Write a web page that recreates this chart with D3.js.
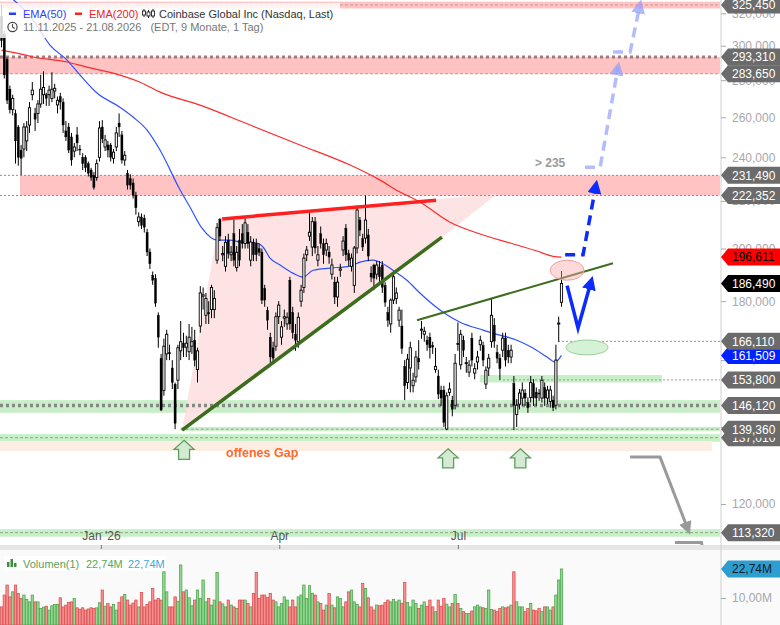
<!DOCTYPE html>
<html>
<head>
<meta charset="utf-8">
<script src="https://cdn.jsdelivr.net/npm/d3@7"></script>
<style>
  body { margin: 0; background: #fff; }
  svg text { font-family: "Liberation Sans", Arial, sans-serif; }
</style>
</head>
<body>
<svg id="chart" width="780" height="625"></svg>
<script>
// daily candles, [open, high, low, close] in thousands
const candles = [
  [318,325.45,299,303],[307,309,281,283],[292,293,267,269],[275,277,262,264],[264,272,261,270],
  [262,264,237,248],[255,256,236,240],[243.5,246,231.6,239.5],[244,257,240,255],[248,258,243,255],
  [256,268,252,265],[272,279,269,274.5],[262,265,253,259],[262,269,257,267],[267,283,265,275],
  [272,285,267,276],[272,273,266,270],[272,277,266,274.5],[270,284.5,268,275],[274,278,270,275.5],
  [266.5,271,262,269],[271,273,264,268],[268,270,252,256],[253,258,248,250],[255,257,242,243.5],
  [250,252,236,238.7],[243,247,240,245],[251,255,243,247],[244,246,241,243.5],[240,242,234,237],
  [240,241,233,235],[237,238,231,232.5],[234,235,229,230.5],[231.5,233,225,226],[230.5,239,229,237],
  [240,258,238,254.5],[255,258.5,247,249],[245,251,243,248.5],[246,248,240,243.5],[246,247,238,240],
  [239.5,244,237,242.5],[245,255,243,252],[257,262,250,255],[251,253,237,238.7],[238.7,243,236,241],
  [232.5,234,225,227],[230,232,225,227],[228,230,221,222.5],[222.5,224,214,217],[211,215,209,213],
  [213,214.5,208,209.5],[212.5,214,206.5,208.7],[206.6,208,197,198.6],[198.6,200,192,194],[189.6,191,186,187.7],
  [188.5,190,178,179.3],[175,176,164,167.5],[160.6,162,144.5,144.8],[150.6,167,149,164.5],[162,170,160,168.5],
  [162.5,165,160,162],[157.5,160,151,153],[152.5,153,139.36,141],[153.7,165,151,164],[163,173,160,166],
  [165.5,169,161,164],[164.2,168,161,165.5],[162.7,172,160,167.5],[164.5,171,162,166],[166.5,170,158,160],
  [157,164,153,163],[171.3,185.5,169,183],[181.8,185,177,182.3],[175,183,172,181],[176,180,172,175.5],
  [177,186,174,185],[177,184,174,181],[195.4,210.5,194,208.5],[212,212.5,203,205],[197.5,201,195,198],
  [193,205,191,202.5],[203.4,206,196,198],[197.5,201,195,198.5],[206,212,193,195.4],[192.5,201,191,198.5],
  [203.4,208,193,195.4],[206,210,200,202],[202,213,200,210.5],[206.6,210,200,202],[195.4,205,193,202.6],
  [202.6,204,195,197.5],[202,204,195,197.5],[200,202,197,198.5],[198.6,200,179,180.4],[184.7,186,178,180.4],
  [176.8,178,170,173.3],[167.5,169,159,161],[164,166,159,160.6],[164.5,176,163,174.5],[174.5,180,172,178.6],
  [167.5,173,165,171],[174,177,171,174.5],[172,176,170,174.3],[187.7,189,170,172],[176,178,167,169],
  [168.5,172,163,166.5],[166,176,164,174.3],[180,186,178,184],[185,198,183,196.2],[197.5,201,195,199.4],
  [205,215,203,206.6],[200.6,213,197,211],[211,213,198,200.2],[195.4,201,193,197.5],[206,209,200,202],
  [202,204,194,197.5],[199.4,204,197,202],[198.6,201,194,196.6],[190,196,188,193.5],[187,189,179,181.5],
  [181.5,189,178,187],[191.5,194,189,192],[199.4,205,197,203],[208.3,210,195,197.5],[198,199.5,193,195.4],
  [193,198,191,196.2],[185.8,201,183,200.2],[200.2,218,198,216],[211.7,213,205,207.5],[204,206,199,200.6],
  [204.2,222.35,202,211.7],[205.5,208,195,197],[190.4,193,187,188.9],[193.5,194,184,188.5],[190,195,188,193.5],
  [192.7,195,187,189],[193.5,195,183,185.1],[185.8,187,178,179.6],[176,178,171,173.3],[172,181,169,180.4],
  [180.4,191,179,189],[181,185,179,183],[173.3,178,171,176.8],[171.3,177,162,163.8],[158,160,147.7,152],
  [153,162,151,160.3],[157.5,166,150,164],[152,156,150,153.7],[154.7,163,153,161],[160.6,166.5,157,159.4],
  [170,173,167,170.2],[168.5,171,166,169.5],[166.5,168,163,165],[167.5,169,160.5,164],[164.8,166,162,164.2],
  [157,164,156,158],[155,157,148,149.5],[150.7,152,146,148.3],[150.7,152,140,141.3],[139.4,150,139.1,149],
  [150,153,149,151],[147.7,149,143,145],[146.2,162,145,159],[165.5,172.5,163,165],[158.5,170,157,168.5],
  [166.5,168,161,163.2],[159,161,156,159.2],[156.2,160,154.7,158.4],[167.2,169,158,160],[155.9,159,154,157.3],
  [159.4,163,157,161],[165,168,163,166.5],[164.8,166,158,160],[152.5,158,151,156.8],[157.5,162,155,160.6],
  [166,181,164,175],[171.6,174,164,166.2],[162.5,165,159,160.6],[160.6,162,153.7,157.3],[163.2,169,161,167.2],
  [167.2,169,158,160],[163.2,165,159,161],[161,165,159,163.2],[152.7,155,139.1,146.2],[143.5,148,140,146.2],
  [146.5,151,145,149.8],[148.3,153,146,150.7],[149.8,151,146,148.3],[147,148.5,144,145.5],[148.5,155,147,153],
  [152.7,154,146,148.3],[150.1,151.5,146,148.3],[149.8,151,147.5,149.5],[148.3,155,147,153.7],[151.5,153,146,148.3],
  [148.3,152,146.5,150.7],[147.3,152,145.5,150.7],[147.7,149,144.5,145.5],[146.2,165,145,160],[172,174.5,166,172.3],
  [179.6,191.2,178,186.49]
];

// daily volume in millions
const volumes = [
  6.1,11.3,15.7,10.5,12.7,15.7,12.0,9.8,11.3,9.4,8.3,11.3,8.3,8.3,5.4,6.0,
  6.4,4.7,6.6,7.2,7.2,10.1,6.1,6.9,8.0,8.3,9.8,5.7,5.1,5.7,4.7,5.2,
  5.7,5.4,5.7,7.9,13.5,6.4,7.6,6.1,7.2,4.7,8.0,10.5,11.6,9.1,6.9,7.8,
  9.1,6.1,12.4,6.1,7.2,8.3,14.2,9.1,9.8,9.1,21.5,12.7,6.1,6.1,10.5,8.6,
  24.5,12.7,13.5,10.1,6.6,9.1,13.5,9.8,17.9,8.3,9.8,6.9,9.1,21.2,8.3,7.4,
  6.1,9.1,6.9,6.1,5.4,9.1,9.1,9.1,7.6,6.1,12.0,21.2,9.8,11.3,11.3,10.2,
  12.0,9.1,8.3,6.1,7.6,10.5,9.1,6.1,9.1,6.1,10.5,11.3,15.7,9.8,15.4,12.1,
  11.3,8.3,7.6,4.7,6.9,12.0,6.9,5.7,10.5,9.8,6.1,8.3,12.7,13.5,8.3,7.1,
  6.1,16.4,14.2,10.1,6.1,4.7,6.9,6.6,6.9,8.0,9.1,8.3,9.4,8.3,9.1,7.7,
  16.8,8.0,6.1,9.1,7.6,5.4,6.9,8.3,6.4,9.1,6.1,4.0,9.1,6.4,9.8,7.3,
  6.1,7.6,11.6,7.6,5.4,4.0,3.2,3.2,4.3,6.1,6.9,6.1,5.7,5.4,13.5,5.0,
  4.7,4.0,5.4,6.1,5.7,6.1,6.9,21.5,8.3,6.1,6.1,4.0,5.4,7.6,4.7,4.4,
  5.5,4.0,6.1,6.1,4.7,6.1,11.3,17.9,22.74
];

// moving averages, [candle index, value]
const ema50 = [
  [0,335],[11.3,315.8],[17.3,300.4],[23.4,291.5],[28,283],[34.1,272.9],[42.3,265.3],[47,260.1],
  [52,253.4],[56.6,243.5],[63.8,224.8],[67.3,217.3],[71.6,208.3],[77,203.4],[81.6,203.4],[85.2,202.6],
  [91.3,202.2],[93.4,200.6],[95.9,196.2],[99.5,193.5],[104.1,190.4],[107.7,188.9],[111.3,191.5],
  [117.3,192.3],[124.5,193.1],[128,194.6],[132.7,195.4],[135.2,194.6],[139.8,191.5],[144.8,187.7],
  [149.5,182.9],[157.7,176.1],[163.8,172.6],[172,169.9],[178,168.2],[184.1,166.5],[189.8,163.9],
  [194.8,161],[197.7,159.4],[200,161.509]
];
const ema200 = [
  [0,297.4],[5.5,295.6],[11.3,293.3],[23.4,290.4],[30.5,287.4],[39.8,284],[49.5,278.9],[56.6,273.4],
  [70.9,266.4],[88.8,256],[106.6,246],[124.5,236.3],[135.2,229.3],[142.3,223.9],[149.5,219.4],
  [160.2,210.8],[170.9,205.9],[181.6,202.2],[191.2,199],[197,196.9],[200,196.611]
];

const priceTicks = [120, 140, 160, 180, 200, 220, 240, 260, 280, 300, 320];
const volTicks = [10];
const dateTicks = [35.5, 99.2, 163];
const dateLabels = ["Jan '26", "Apr", "Jul"];

// horizontal zones
const redZones = [[323.2, 327.6], [283.65, 293.31], [222.352, 231.49]];
const greenZones = [[144.0, 147.7], [138.9, 140.0], [135.9, 138.0], [112.4, 114.1]];
const gapZone = [133.4, 136.1];
const levels = [325.45, 293.31, 283.65, 231.49, 222.352, 166.11, 153.8, 146.12, 137.01, 139.36, 113.32];

// drawing annotations, [candle index, price]
const triangleZone = [[64.5,139.1],[78,212.7],[177,223],[157.3,204.6]];
const upperTrend = [[78.8,212.2],[155.2,220.3]];
const lowerTrend = [[64.5,139.1],[157.3,204.6]];
const channelTop = [[148.4,173.3],[218.4,194.2]];
const bounceArrow = [[202,185.7],[205.9,170.6],[210.6,187.3]];
const targetArrow = [[201.3,197.5],[207.7,197.5],[212.3,227]];
const targetArrow2 = [[208.4,235.3],[213.8,235.3],[220.2,287.5]];
const targetArrow3 = [[218.4,296.3],[224.5,296.3],[228,325.4]];
const downArrow = [[224.5,131.8],[235.2,131.8],[245.2,114.0]];
const downArrow2 = [[240.5,111.1],[250,111.1],[252,105]];
const supportArrows = [[65.2,136.3],[159.5,134.0],[185.3,134.0]];

const svg = d3.select('#chart');
const plotW = 720, mainH = 545;

const x = d3.scaleLinear().domain([0, 200]).range([1.5, 561.5]);
const y = d3.scaleLog().domain([120, 300]).range([504, 45.7]);
const yVol = d3.scaleLinear().domain([0, 25]).range([620.8, 563.8]);

const fmtPrice = v => d3.format(',.0f')(v * 1000);
const fmtVol = v => d3.format('.2f')(v).replace('.', ',') + 'M';
const pt = d => [x(d[0]), y(d[1])];
const line = d3.line().x(d => x(d[0])).y(d => y(d[1]));

// defs: clip + arrow heads
const defs = svg.append('defs');
defs.append('clipPath').attr('id', 'clipMain')
  .append('rect').attr('width', plotW).attr('height', mainH);
function marker(id, color, size) {
  defs.append('marker')
    .attr('id', id)
    .attr('viewBox', '0 -5 10 10')
    .attr('refX', 6).attr('refY', 0)
    .attr('markerUnits', 'userSpaceOnUse')
    .attr('markerWidth', size).attr('markerHeight', size)
    .attr('orient', 'auto')
    .append('path').attr('d', 'M0,-5L10,0L0,5Z').attr('fill', color);
}
marker('headBlue', '#0b2bff', 14);
marker('headLight', 'rgba(150,160,250,0.75)', 14);
marker('headGray', '#999', 13);

// backgrounds
svg.append('rect').attr('width', 780).attr('height', 625).attr('fill', '#fff');
svg.append('rect').attr('y', 550).attr('width', 780).attr('height', 75).attr('fill', '#fafafa');
svg.append('rect').attr('y', 545).attr('width', 780).attr('height', 5).attr('fill', '#e6e6e6');

const main = svg.append('g').attr('clip-path', 'url(#clipMain)');

// zones
main.selectAll('.rz').data(redZones).join('rect')
  .attr('x', (d, i) => i === 2 ? 20 : 0)
  .attr('width', (d, i) => i === 2 ? plotW - 20 : plotW)
  .attr('y', d => y(d[1])).attr('height', d => y(d[0]) - y(d[1]))
  .attr('fill', '#ffc3c3');
main.selectAll('.gz').data(greenZones).join('rect')
  .attr('x', (d, i) => i === 1 ? x(64) : 0)
  .attr('width', (d, i) => i === 1 ? plotW - x(64) : plotW)
  .attr('y', d => y(d[1])).attr('height', d => y(d[0]) - y(d[1]))
  .attr('fill', '#c8efc8');
main.append('rect')
  .attr('x', x(170.9)).attr('width', x(235.9) - x(170.9))
  .attr('y', y(155.3)).attr('height', y(153) - y(155.3))
  .attr('fill', '#c8efc8');
main.append('rect')
  .attr('x', 0).attr('width', x(253.7))
  .attr('y', y(gapZone[1])).attr('height', y(gapZone[0]) - y(gapZone[1]))
  .attr('fill', '#fdeee3');

// triangle shading
main.append('path')
  .attr('d', 'M' + triangleZone.map(pt).join('L') + 'Z')
  .attr('fill', '#fde0e0').attr('opacity', 0.9);

// level lines
const levelStyle = {
  325.45: ['#c89595', 1, '3,2', 0], 293.31: ['#a07b7b', 3, '3,3', 0], 283.65: ['#c89595', 1, '3,2', 0],
  231.49: ['#b08080', 1, '2,2', 0], 222.352: ['#b08080', 1, '2,2', 0],
  166.11: ['#999', 1, '2,2', 558], 153.8: ['#999', 1, '2,2', 503],
  146.12: ['#888', 3.5, '3,3', 0], 139.36: ['#8aa88a', 1, '3,2', x(64)], 137.01: ['#8aa88a', 1, '3,2', 0],
  113.32: ['#8aa88a', 1, '3,2', 0]
};
main.selectAll('.lvl').data(levels).join('line')
  .attr('x1', d => levelStyle[d][3]).attr('x2', plotW)
  .attr('y1', d => y(d)).attr('y2', d => y(d))
  .attr('stroke', d => levelStyle[d][0])
  .attr('stroke-width', d => levelStyle[d][1])
  .attr('stroke-dasharray', d => levelStyle[d][2]);

// EMAs
const emaLine = d3.line().x(d => x(d[0])).y(d => y(d[1])).curve(d3.curveMonotoneX);
main.append('path').attr('d', emaLine(ema200)).attr('fill', 'none').attr('stroke', '#ff2a2a').attr('stroke-width', 1.2);
main.append('path').attr('d', emaLine(ema50)).attr('fill', 'none').attr('stroke', '#3050ff').attr('stroke-width', 1.2);

// candles
const cg = main.append('g');
cg.selectAll('.wick').data(candles).join('line')
  .attr('x1', (d, i) => x(i)).attr('x2', (d, i) => x(i))
  .attr('y1', d => y(d[1])).attr('y2', d => y(d[2]))
  .attr('stroke', '#000').attr('stroke-width', 1);
cg.selectAll('.body').data(candles).join('rect')
  .attr('x', (d, i) => x(i) - 1.1)
  .attr('width', 2.2)
  .attr('y', d => y(Math.max(d[0], d[3])))
  .attr('height', d => Math.max(1, Math.abs(y(d[0]) - y(d[3]))))
  .attr('fill', d => d[3] >= d[0] ? '#fff' : '#000')
  .attr('stroke', '#000').attr('stroke-width', d => d[3] >= d[0] ? 0.9 : 0.3);

// trend lines
main.append('path').attr('d', line(upperTrend)).attr('stroke', '#ff2020').attr('stroke-width', 3.5).attr('fill', 'none');
main.append('path').attr('d', line(lowerTrend)).attr('stroke', '#3b6d1d').attr('stroke-width', 3.5).attr('fill', 'none');
main.append('path').attr('d', line(channelTop)).attr('stroke', '#3b6d1d').attr('stroke-width', 2).attr('fill', 'none');

// ellipses
main.append('ellipse').attr('cx', x(202)).attr('cy', y(191.5)).attr('rx', 17).attr('ry', 10)
  .attr('fill', 'rgba(250,170,170,0.45)').attr('stroke', '#f0a0a0');
main.append('ellipse').attr('cx', x(209.1)).attr('cy', y(164.1)).attr('rx', 21).attr('ry', 7.5)
  .attr('fill', '#d6f2d6').attr('stroke', '#9ad09a');

// arrows
main.append('path').attr('d', line(bounceArrow)).attr('fill', 'none')
  .attr('stroke', '#0b2bff').attr('stroke-width', 3.5).attr('marker-end', 'url(#headBlue)');
main.append('path').attr('d', line(targetArrow)).attr('fill', 'none')
  .attr('stroke', '#0b2bff').attr('stroke-width', 3.5).attr('stroke-dasharray', '10,6').attr('marker-end', 'url(#headBlue)');
[targetArrow2, targetArrow3].forEach(a => {
  main.append('path').attr('d', line(a)).attr('fill', 'none')
    .attr('stroke', '#b4bdfb').attr('stroke-width', 3.5).attr('stroke-dasharray', '10,6').attr('marker-end', 'url(#headLight)');
});
[downArrow, downArrow2].forEach(a => {
  main.append('path').attr('d', line(a)).attr('fill', 'none')
    .attr('stroke', '#9a9a9a').attr('stroke-width', 3).attr('marker-end', 'url(#headGray)');
});
main.selectAll('.up').data(supportArrows).join('path')
  .attr('transform', d => `translate(${x(d[0])},${y(d[1])})`)
  .attr('d', 'M0,0L10,9L5.5,9L5.5,19L-5.5,19L-5.5,9L-10,9Z')
  .attr('fill', '#d5ead5').attr('stroke', '#5c9e5c').attr('stroke-width', 1.3);

// annotation texts
main.append('text').attr('x', x(80.2)).attr('y', y(131.9))
  .attr('fill', '#ff6a2a').attr('font-size', 12.5).attr('font-weight', 'bold').text('offenes Gap');
main.append('text').attr('x', x(190.5)).attr('y', y(235.5))
  .attr('fill', '#9a9a9a').attr('font-size', 12).attr('font-weight', 'bold').text('> 235');

// x axis
const xAxis = svg.append('g').attr('transform', `translate(0,${mainH})`)
  .call(d3.axisBottom(x).tickValues(dateTicks).tickFormat((d, i) => dateLabels[i]).tickSize(4));
xAxis.select('.domain').remove();
xAxis.selectAll('line').attr('stroke', '#777');
xAxis.selectAll('text').attr('y', -14).attr('fill', '#555').attr('font-size', 12)
  .style('font-family', '"Liberation Sans", Arial, sans-serif');

// volume bars
svg.append('g').selectAll('rect').data(volumes).join('rect')
  .attr('x', (d, i) => x(i) - 1.2)
  .attr('width', 2.4)
  .attr('y', d => yVol(d))
  .attr('height', d => 625 - yVol(d))
  .attr('fill', (d, i) => candles[i][3] >= candles[i][0] ? '#92d892' : '#f78f8f')
  .attr('stroke', (d, i) => candles[i][3] >= candles[i][0] ? '#45a045' : '#d84848')
  .attr('stroke-width', 0.7);

// right axis
svg.append('line').attr('x1', 721).attr('x2', 721).attr('y1', 0).attr('y2', 625).attr('stroke', '#d0d0d0');
const yAxis = svg.append('g').attr('transform', 'translate(721,0)')
  .call(d3.axisRight(y).tickValues(priceTicks).tickFormat(fmtPrice).tickSize(5).tickPadding(6));
yAxis.select('.domain').remove();
yAxis.selectAll('line').attr('stroke', '#aaa');
yAxis.selectAll('text').attr('fill', '#a8a8a8').attr('font-size', 12)
  .style('font-family', '"Liberation Sans", Arial, sans-serif');
const vAxis = svg.append('g').attr('transform', 'translate(721,0)')
  .call(d3.axisRight(yVol).tickValues(volTicks).tickFormat(fmtVol).tickSize(5).tickPadding(6));
vAxis.select('.domain').remove();
vAxis.selectAll('line').attr('stroke', '#aaa');
vAxis.selectAll('text').attr('fill', '#a8a8a8').attr('font-size', 12)
  .style('font-family', '"Liberation Sans", Arial, sans-serif');

// value tags
function tag(yPos, text, bg, fg) {
  const h = 17;
  svg.append('path')
    .attr('d', `M721,${yPos}L728,${yPos - h / 2}L780,${yPos - h / 2}L780,${yPos + h / 2}L728,${yPos + h / 2}Z`)
    .attr('fill', bg);
  svg.append('text').attr('x', 732).attr('y', yPos).attr('dy', '0.36em')
    .attr('fill', fg).attr('font-size', 12).text(text);
}
const lastClose = candles[candles.length - 1][3];
const lastEma50 = ema50[ema50.length - 1][1];
const lastEma200 = ema200[ema200.length - 1][1];
levels.slice(0, 5).forEach(v => tag(y(v), fmtPrice(v), '#6b6b6b', '#fff'));
tag(y(lastEma200), fmtPrice(lastEma200), '#ff0000', '#000');
tag(y(lastClose), fmtPrice(lastClose), '#000', '#fff');
tag(y(lastEma50), fmtPrice(lastEma50), '#0022ff', '#fff');
levels.slice(5).forEach(v => tag(y(v), fmtPrice(v), '#6b6b6b', '#fff'));
tag(yVol(volumes[volumes.length - 1]), fmtVol(volumes[volumes.length - 1]), '#2e9ed0', '#0d1b2a');

// legend, main panel
const lg = svg.append('g');
lg.append('rect').attr('x', 0).attr('y', 3).attr('width', 340).attr('height', 35).attr('fill', '#fff').attr('opacity', 0.82);
lg.append('rect').attr('x', 9).attr('y', 12.5).attr('width', 7).attr('height', 2.5).attr('fill', '#2040ff');
lg.append('text').attr('x', 23).attr('y', 17.5).attr('fill', '#3040ff').attr('font-size', 11).text('EMA(50)');
lg.append('rect').attr('x', 75).attr('y', 12.5).attr('width', 7).attr('height', 2.5).attr('fill', '#ff2020');
lg.append('text').attr('x', 89).attr('y', 17.5).attr('fill', '#ee2222').attr('font-size', 11).text('EMA(200)');
[[144, 9, 17, 11, 15], [148.5, 10, 18, 12, 16], [153, 9, 18, 11, 16]].forEach(c => {
  lg.append('line').attr('x1', c[0]).attr('x2', c[0]).attr('y1', c[1]).attr('y2', c[2]).attr('stroke', '#222');
  lg.append('rect').attr('x', c[0] - 1.5).attr('y', c[3]).attr('width', 3).attr('height', c[4] - c[3])
    .attr('fill', '#fff').attr('stroke', '#222').attr('stroke-width', 0.9);
});
lg.append('text').attr('x', 159).attr('y', 17.5).attr('fill', '#333').attr('font-size', 11)
  .text('Coinbase Global Inc (Nasdaq, Last)');
lg.append('circle').attr('cx', 12.5).attr('cy', 27).attr('r', 4.6).attr('fill', 'none').attr('stroke', '#444').attr('stroke-width', 1.2);
lg.append('path').attr('d', 'M12.5,24L12.5,27L14.8,28.5').attr('fill', 'none').attr('stroke', '#444').attr('stroke-width', 1.1);
lg.append('text').attr('x', 23).attr('y', 31).attr('fill', '#777').attr('font-size', 11)
  .attr('xml:space', 'preserve')
  .text('11.11.2025 - 21.08.2026   (EDT, 9 Monate, 1 Tag)');

// legend, volume panel
const vl = svg.append('g');
vl.append('rect').attr('x', 4).attr('y', 556).attr('width', 162).attr('height', 15).attr('fill', '#fff');
[[7, 562], [10.5, 559], [14, 563]].forEach(b => {
  vl.append('rect').attr('x', b[0]).attr('y', b[1]).attr('width', 2.5).attr('height', 567 - b[1]).attr('fill', '#3c8f3c');
});
vl.append('text').attr('x', 23).attr('y', 567.5).attr('fill', '#5e9e5e').attr('font-size', 11).text('Volumen(1)');
vl.append('text').attr('x', 86).attr('y', 567.5).attr('fill', '#55a855').attr('font-size', 11).text(fmtVol(volumes[volumes.length - 1]));
vl.append('text').attr('x', 128).attr('y', 567.5).attr('fill', '#45a6d6').attr('font-size', 11).text(fmtVol(volumes[volumes.length - 1]));
</script>
</body>
</html>
